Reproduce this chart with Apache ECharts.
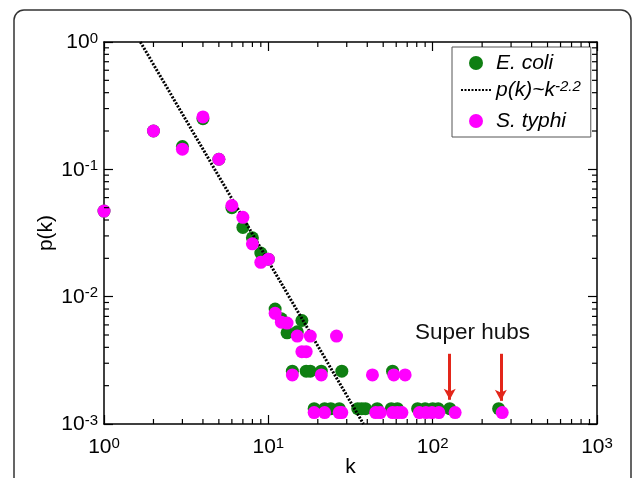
<!DOCTYPE html>
<html>
<head>
<meta charset="utf-8">
<script src="https://cdn.jsdelivr.net/npm/echarts@6/dist/echarts.min.js"></script>
<style>html,body{margin:0;padding:0;background:#fff;}#c{width:633px;height:478px;}</style>
</head>
<body>
<div id="c"></div>
<script>
// ---- data ----
const ecoliK = [1,2,3,4,5,6,7,8,9,10,11,12,13,14,15,16,17,18,21,28,57,
                19,22,24,27,35,37,39,46,56,61,81,90,100,108,127,252];
const ecoliP = [0.047,0.2,0.151,0.25,0.12,0.050,0.035,0.029,0.022,0.0197,0.0080,0.0067,0.0052,0.0026,0.0053,0.0065,0.0026,0.0026,0.0026,0.0026,0.0026,
                0.00132,0.00132,0.00132,0.00132,0.00132,0.00132,0.00132,0.00132,0.00132,0.00132,0.00132,0.00132,0.00132,0.00132,0.00132,0.00132];
const typhiK = [1,2,3,4,5,6,7,8,9,10,11,12,13,14,15,16,17,18,21,26,43,58,68,
                19,22,27,28,45,48,57,61,65,83,91,99,109,137,265];
const typhiP = [0.047,0.2,0.144,0.258,0.12,0.052,0.042,0.026,0.0186,0.0197,0.0074,0.0063,0.0062,0.00243,0.0049,0.0037,0.0037,0.0049,0.00243,0.0049,0.00243,0.00243,0.00243,
                0.00123,0.00123,0.00123,0.00123,0.00123,0.00123,0.00123,0.00123,0.00123,0.00123,0.00123,0.00123,0.00123,0.00123,0.00123];
const fitK = [1.665, 37.9];
const fitP = [1, 0.001];
const hubK = [127, 260];
const arrowTopP = [0.00356, 0.00356];
const arrowEndP = [0.00155, 0.00152];
const xTickLabels = ['0','1','2','3'];
const yTickLabels = ['-3','-2','-1','0'];
const xMinorTicks = [2,3,4,5,6,7,8,9,20,30,40,50,60,70,80,90,200,300,400,500,600,700,800,900];
const yMinorTicks = [0.002,0.003,0.004,0.005,0.006,0.007,0.008,0.009,0.02,0.03,0.04,0.05,0.06,0.07,0.08,0.09,0.2,0.3,0.4,0.5,0.6,0.7,0.8,0.9];
// ------------------------------------

const FONT = "'Liberation Sans', Arial, sans-serif";
const zip = (a, b) => a.map((v, i) => [v, b[i]]);
const XMIN = 1, XMAX = 1000, YMIN = 0.001, YMAX = 1;

const supRich = {
  b: {fontSize: 21, fontFamily: FONT, color: '#000', verticalAlign: 'bottom', lineHeight: 22},
  s: {fontSize: 15, fontFamily: FONT, color: '#000', verticalAlign: 'top', lineHeight: 16, padding: [0, 0, 20, 0]}
};
function xLab(v) {
  const i = Math.round(Math.log10(v));
  return '{b|10}{s|' + xTickLabels[i] + '}';
}
function yLab(v) {
  const i = Math.round(Math.log10(v)) + 3;
  return '{b|10}{s|' + yTickLabels[i] + '}';
}

const axisCommon = {
  type: 'log', logBase: 10,
  axisLine: {show: true, onZero: false, lineStyle: {color: '#000', width: 1.5}},
  axisTick: {show: true, inside: true, length: 9, lineStyle: {color: '#000', width: 1.2}},
  splitLine: {show: false},
  minorTick: {show: false}
};

const minorData = xMinorTicks.map(v => [v, YMIN, 0]).concat(yMinorTicks.map(v => [XMIN, v, 1]));

const chart = echarts.init(document.getElementById('c'));
chart.setOption({
  animation: false,
  backgroundColor: '#fff',
  grid: {left: 104, top: 42, right: 36, bottom: 54, containLabel: false, outerBoundsMode: 'none'},
  xAxis: [
    Object.assign({}, axisCommon, {
      min: XMIN, max: XMAX, position: 'bottom',
      name: 'k', nameLocation: 'middle', nameGap: 33, nameMoveOverlap: false,
      nameTextStyle: {fontSize: 21, fontFamily: FONT, color: '#000'},
      axisLabel: {show: true, margin: 12, formatter: xLab, rich: supRich}
    }),
    Object.assign({}, axisCommon, {
      min: XMIN, max: XMAX, position: 'top', axisLabel: {show: false}
    })
  ],
  yAxis: [
    Object.assign({}, axisCommon, {
      min: YMIN, max: YMAX, position: 'left',
      name: 'p(k)', nameLocation: 'middle', nameGap: 47, nameMoveOverlap: false,
      nameTextStyle: {fontSize: 21, fontFamily: FONT, color: '#000'},
      axisLabel: {show: true, margin: 6, formatter: yLab, rich: supRich}
    }),
    Object.assign({}, axisCommon, {
      min: YMIN, max: YMAX, position: 'right', axisLabel: {show: false}
    })
  ],
  legend: {
    data: ['E. coli', {name: 'fit', itemStyle: {color: 'rgba(0,0,0,0)', opacity: 0, borderWidth: 0}}, 'S. typhi'],
    orient: 'vertical',
    left: 452, top: 47,
    padding: [6, 10, 5, 8],
    itemWidth: 30, itemHeight: 14, itemGap: 5,
    backgroundColor: '#fff',
    borderColor: '#555', borderWidth: 1,
    selectedMode: false,
    textStyle: {
      fontSize: 20, fontFamily: FONT, fontStyle: 'italic', color: '#000',
      rich: {
        i: {fontSize: 21, fontFamily: FONT, fontStyle: 'italic', color: '#000', verticalAlign: 'bottom', lineHeight: 22},
        s: {fontSize: 15, fontFamily: FONT, fontStyle: 'italic', color: '#000', verticalAlign: 'top', lineHeight: 16, padding: [0, 0, 12, 0]}
      }
    },
    formatter: function (name) {
      if (name === 'fit') return '{i|p(k)~k}{s|-2.2}';
      return '{i|' + name + '}';
    }
  },
  graphic: [
    {type: 'rect', silent: true, z: -10,
     shape: {x: 14, y: 10, width: 617, height: 520, r: 10},
     style: {fill: 'none', stroke: '#333', lineWidth: 1.5}},
    {type: 'text', silent: true, left: 415, top: 321,
     style: {text: 'Super hubs', fontSize: 22.5, fontFamily: FONT, fill: '#111'}}
  ],
  series: [
    {
      name: 'E. coli', type: 'scatter', symbol: 'circle', symbolSize: 13,
      itemStyle: {color: '#0f7f12', opacity: 1},
      data: zip(ecoliK, ecoliP), z: 2
    },
    {
      name: 'fit', type: 'line', symbol: 'none', showSymbol: false,
      lineStyle: {color: '#000', width: 3, type: [2, 1.5]},
      itemStyle: {color: '#000'},
      data: zip(fitK, fitP), z: 3,
      markLine: {
        silent: true, symbol: ['none', 'arrow'], symbolSize: [9, 11],
        label: {show: false},
        lineStyle: {color: '#e3261a', width: 3, type: 'solid'},
        data: hubK.map((k, i) => [{coord: [k, arrowTopP[i]]}, {coord: [k, arrowEndP[i]]}])
      }
    },
    {
      name: 'S. typhi', type: 'scatter', symbol: 'circle', symbolSize: 13,
      itemStyle: {color: '#ff00ff', opacity: 1},
      data: zip(typhiK, typhiP), z: 4
    },
    {
      name: 'minor', type: 'custom', silent: true, clip: false, z: 5,
      encode: {x: 0, y: 1},
      data: minorData,
      renderItem: function (params, api) {
        const kind = api.value(2);
        const L = 5;
        const st = {stroke: '#000', lineWidth: 1.2};
        if (kind === 0) {
          const p1 = api.coord([api.value(0), YMIN]);
          const p2 = api.coord([api.value(0), YMAX]);
          return {type: 'group', children: [
            {type: 'line', shape: {x1: p1[0], y1: p1[1], x2: p1[0], y2: p1[1] - L}, style: st},
            {type: 'line', shape: {x1: p2[0], y1: p2[1], x2: p2[0], y2: p2[1] + L}, style: st}
          ]};
        } else {
          const p1 = api.coord([XMIN, api.value(1)]);
          const p2 = api.coord([XMAX, api.value(1)]);
          return {type: 'group', children: [
            {type: 'line', shape: {x1: p1[0], y1: p1[1], x2: p1[0] + L, y2: p1[1]}, style: st},
            {type: 'line', shape: {x1: p2[0], y1: p2[1], x2: p2[0] - L, y2: p2[1]}, style: st}
          ]};
        }
      }
    }
  ]
});
</script>
</body>
</html>
